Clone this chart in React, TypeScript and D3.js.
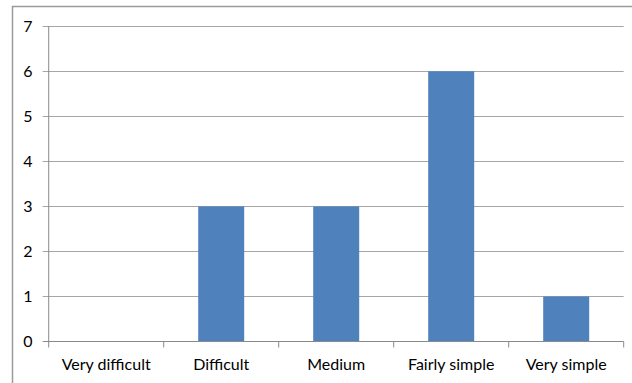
import React from "react";
import * as d3 from "d3";

const categories = ["Very difficult", "Difficult", "Medium", "Fairly simple", "Very simple"];
const counts = [0, 3, 3, 6, 1];
const yTicks = [0, 1, 2, 3, 4, 5, 6, 7];

const W = 632;
const H = 383;
const plot = { left: 48.7, right: 623.7, top: 26.3, bottom: 341.5 };
const FONT = "Lato, 'Open Sans', sans-serif";

export default function App() {
  const x = d3
    .scaleBand<string>()
    .domain(categories)
    .range([plot.left, plot.right])
    .paddingInner(0.6)
    .paddingOuter(0.3);
  const band = d3.scaleBand<string>().domain(categories).range([plot.left, plot.right]);
  const y = d3.scaleLinear().domain([0, 7]).range([plot.bottom, plot.top]);

  const tickEdges = [...categories.map((c) => band(c)!), plot.right];

  return (
    <svg
      width={W}
      height={H}
      style={{ position: "absolute", left: 0, top: 0, background: "#fff" }}
    >
      {/* chart frame */}
      <rect x={12.5} y={6.5} width={W + 10} height={H + 10} fill="#fff" stroke="#9a9a9a" strokeWidth={1.5} />

      {/* horizontal gridlines */}
      {yTicks.slice(1).map((t) => (
        <line
          key={t}
          x1={plot.left - 6}
          x2={plot.right}
          y1={Math.round(y(t)) + 0.5}
          y2={Math.round(y(t)) + 0.5}
          stroke="#a6a6a6"
          strokeWidth={1}
        />
      ))}

      {/* bars */}
      {categories.map((c, i) => (
        <rect
          key={c}
          x={x(c)}
          y={y(counts[i])}
          width={x.bandwidth()}
          height={plot.bottom - y(counts[i])}
          fill="#4F81BD"
        />
      ))}

      {/* axes */}
      <line x1={plot.left} x2={plot.left} y1={plot.top} y2={plot.bottom} stroke="#8a8a8a" />
      <line x1={plot.left - 6} x2={plot.right} y1={plot.bottom} y2={plot.bottom} stroke="#8a8a8a" />
      {tickEdges.map((tx, i) => (
        <line key={i} x1={tx} x2={tx} y1={plot.bottom} y2={plot.bottom + 6} stroke="#8a8a8a" />
      ))}

      {/* y tick labels */}
      {yTicks.map((t) => (
        <text
          key={t}
          x={32.5}
          y={y(t)}
          dy="0.36em"
          textAnchor="end"
          fontFamily={FONT}
          fontSize={16}
          fill="#000"
        >
          {t}
        </text>
      ))}

      {/* category labels */}
      {categories.map((c) => (
        <text
          key={c}
          x={band(c)! + band.bandwidth() / 2}
          y={364}
          dy="0.36em"
          textAnchor="middle"
          fontFamily={FONT}
          fontSize={16}
          fill="#000"
        >
          {c}
        </text>
      ))}
    </svg>
  );
}
